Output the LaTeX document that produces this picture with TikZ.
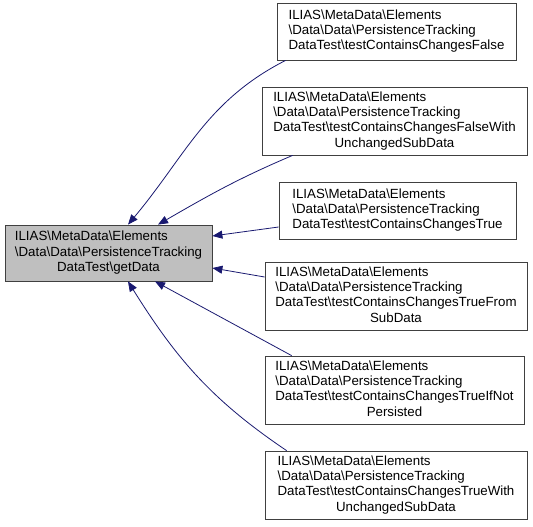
\documentclass[tikz,border=0pt]{standalone}
\usepackage{fontspec}
\setmainfont{Liberation Sans}
\usetikzlibrary{arrows.meta}
\definecolor{callC}{RGB}{25,25,112}
\definecolor{rootF}{RGB}{191,191,191}
\definecolor{boxD}{RGB}{64,64,64}
\newcommand{\bsl}{\textbackslash}
% doxygen style label: left lines, last line centred
\newcommand{\fnlab}[2]{%
  \begin{tabular}{@{}l@{}}#1\\\multicolumn{1}{@{}c@{}}{#2}\end{tabular}}
\newcommand{\nsA}{ILIAS\bsl MetaData\bsl Elements}
\newcommand{\nsB}{\bsl Data\bsl Data\bsl PersistenceTracking}

\begin{document}
\begin{tikzpicture}[
    x=1pt, y=-1pt,
    fnbox/.style={draw=boxD, fill=white, line width=0.8pt, inner sep=0pt,
      font=\fontsize{13.3}{15.3}\selectfont},
    rootbox/.style={fnbox, fill=rootF},
    call/.style={draw=callC, line width=0.8pt,
      -{Triangle[length=10pt, width=8pt]}},
  ]
  \useasboundingbox (0,0) rectangle (533,527);

  %% ================= the function that is called =================
  \node[rootbox, minimum width=207pt, minimum height=56pt] (getdata) at (108.5,253)
    {\fnlab{\nsA\\\nsB}{DataTest\bsl getData}};

  %% ================= the tests that call it =================
  \node[fnbox, minimum width=239pt, minimum height=57pt] (t1) at (396.5,31.5)
    {\fnlab{\nsA\\\nsB}{DataTest\bsl testContainsChangesFalse}};
  \node[fnbox, minimum width=265pt, minimum height=68pt] (t2) at (394.5,121)
    {\fnlab{\nsA\\\nsB\\DataTest\bsl testContainsChangesFalseWith}{UnchangedSubData}};
  \node[fnbox, minimum width=237pt, minimum height=57pt] (t3) at (397.5,210.5)
    {\fnlab{\nsA\\\nsB}{DataTest\bsl testContainsChangesTrue}};
  \node[fnbox, minimum width=262pt, minimum height=68pt] (t4) at (396,296)
    {\fnlab{\nsA\\\nsB\\DataTest\bsl testContainsChangesTrueFrom}{SubData}};
  \node[fnbox, minimum width=259pt, minimum height=68pt] (t5) at (394.5,390)
    {\fnlab{\nsA\\\nsB\\DataTest\bsl testContainsChangesTrueIfNot}{Persisted}};
  \node[fnbox, minimum width=262pt, minimum height=68pt] (t6) at (396,485)
    {\fnlab{\nsA\\\nsB\\DataTest\bsl testContainsChangesTrueWith}{UnchangedSubData}};

  %% ---- calls ----
  \draw[call] ([xshift=9pt]t1.south west) to[out=207, in=50] ([xshift=19.5pt]getdata.north);
  \draw[call] ([xshift=31pt]t2.south west) to[out=203, in=30] ([xshift=49.5pt]getdata.north);
  \draw[call] ([yshift=-16.5pt]t3.west) -- ([yshift=17pt]getdata.east);
  \draw[call] ([yshift=19pt]t4.west) -- ([yshift=-15pt]getdata.east);
  \draw[call] ([xshift=27pt]t5.north west) -- ([xshift=46.5pt]getdata.south);
  \draw[call] ([xshift=22pt]t6.north west) to[out=146, in=-58] ([xshift=19.5pt]getdata.south);

\end{tikzpicture}
\end{document}
